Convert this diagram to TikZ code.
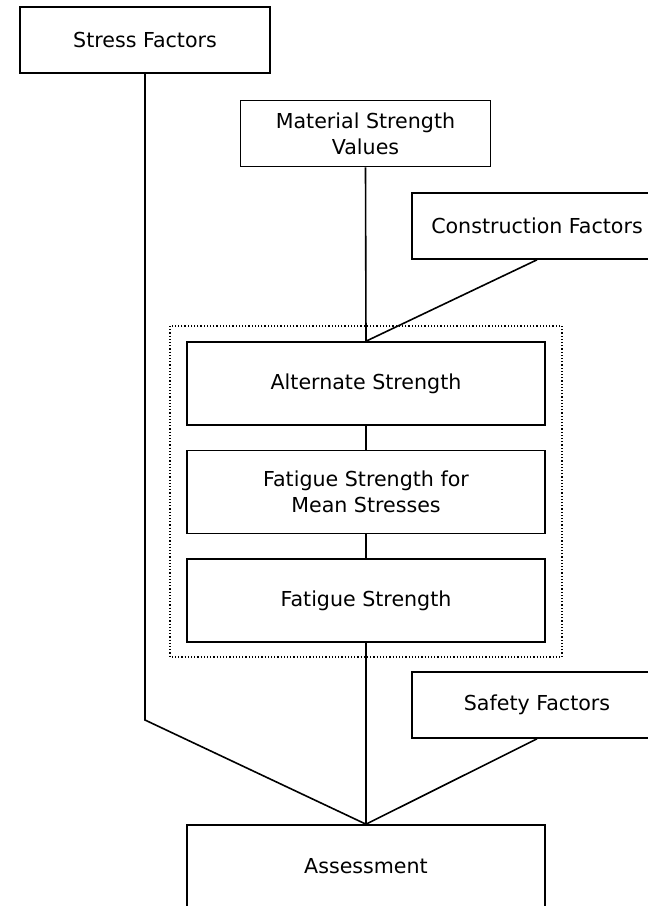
\documentclass[tikz,border=0pt]{standalone}
\usepackage{fontspec}
\setmainfont{DejaVu Sans}
\usepackage{tikz}
\usetikzlibrary{calc}

\tikzset{
  block/.style={draw, line width=0.8pt, rectangle, inner sep=0pt,
    minimum width=125pt, minimum height=33pt, align=center,
    font=\fontsize{10.3}{13}\selectfont},
  wideblock/.style={block, minimum width=179pt, minimum height=41.5pt},
  link/.style={line width=0.8pt},
  group/.style={line width=0.8pt, dash pattern=on 0.6pt off 1pt}
}

\begin{document}
\begin{tikzpicture}[line cap=butt,line join=miter,x=0.5pt,y=-0.5pt]
                \useasboundingbox (0,0) rectangle (648,906);
                % input boxes
                \node[block] (stress) at (145,40) {Stress Factors};
                \node[block] (material) at (365.5,133.5) {Material Strength\\Values};
                \node[block] (construct) at (537,226) {Construction Factors};
                \node[block] (safety) at (537,705) {Safety Factors};
                % strength chain
                \node[wideblock] (alternate) at (366,383.5) {Alternate Strength};
                \node[wideblock] (meanstress) at (366,492) {Fatigue Strength for\\Mean Stresses};
                \node[wideblock] (fatigue) at (366,600.5) {Fatigue Strength};
                \node[wideblock] (assess) at (366,866.5) {Assessment};
                \draw [group] (170,326) rectangle (562,657);
                \coordinate (bend) at (145,720);
                % connectors
                \draw [link] (material.south)-- (alternate.north);
                \draw [link] (construct.south)-- (alternate.north);
                \draw [link] (alternate.south)-- (meanstress.north);
                \draw [link] (meanstress.south)-- (fatigue.north);
                \draw [link] (fatigue.south)-- (assess.north);
                \draw [link] (stress.south)-- (bend)-- (assess.north);
                \draw [link] (safety.south)-- (assess.north);
            \end{tikzpicture}
\end{document}
